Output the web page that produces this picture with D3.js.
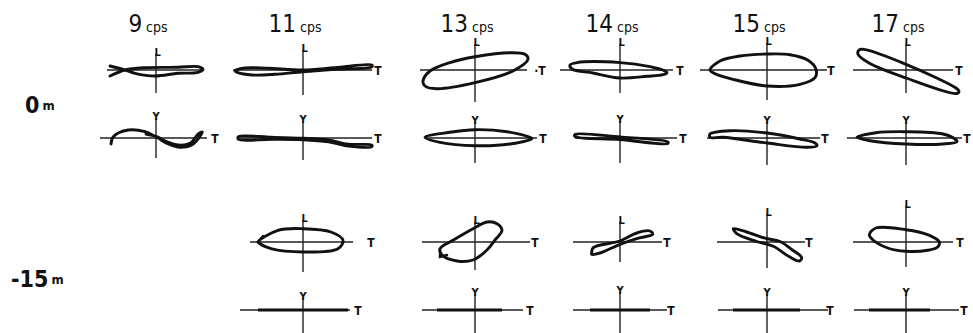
<!DOCTYPE html>
<html>
<head>
<meta charset="utf-8">
<script src="https://cdn.jsdelivr.net/npm/d3@7"></script>
<style>
  body { margin: 0; background: #fff; }
  text { font-family: "Liberation Sans Narrow", "DejaVu Sans Condensed", sans-serif; fill: #111; }
</style>
</head>
<body>
<div id="chart"></div>
<script>
var width = 973, height = 333;

// frequencies (columns) and depths (row groups)
var freqs = [9, 11, 13, 14, 15, 17];
var depths = ["0", "-15"];

// particle motion loops, traced as [T, L] or [T, V] amplitude pairs (null = no record)
var surfLT = [
  [[-46,-6],[-31,0],[-11,2.3],[22,2.7],[42,3.3],[47,0.7],[42,-2.3],[22,-3.3],[-1,-6],[-21,-3.3],[-31,0],[-46,4]],
  [[-68,-0.7],[-58,2],[-35,1.7],[0,0],[32,2.3],[69,5],[69,3.3],[32,0.7],[0,-1.7],[-28,-4.3],[-51,-5],[-65,-2.7]],
  [[-52,-11],[-45,-1],[-25,7.4],[0,13.3],[35,17.3],[50,15.7],[53,10.7],[38,-1],[0,-12.7],[-38,-18.7],[-50,-16]],
  [[-50,5],[-43,7.4],[0,7.4],[30,3.3],[45,-1],[47,-2.7],[43,-4.6],[27,-6.3],[0,-8],[-27,-3],[-48,1]],
  [[-57,0],[-47,9],[-27,14],[0,16],[23,15.3],[41,9.7],[49,0.7],[48,-7.7],[33,-14.3],[0,-16],[-34,-9.3],[-52,-3.7]],
  [[-48,15.7],[-47,20],[-42,20.6],[0,5.7],[50,-18],[53,-21],[51,-23.5],[0,-8],[-37,7]]
];
var surfVT = [
  [[-45,-6],[-42.7,1.3],[-27.7,8],[-11,6.3],[0.7,0.7],[12.3,-6],[24,-9.3],[37.3,-6],[46.3,6],[42.3,4],[34,-5.3],[22.3,-7],[10.7,-3.7],[0.7,1.3],[-10,4]],
  [[-64.7,1.3],[-31.3,0.7],[0,-0.3],[25.3,-2],[45.3,-6.3],[68.7,-7],[68.7,-8.7],[45.3,-8],[25.3,-3.7],[0,-1.7],[-31.3,-1.3],[-64.7,-1.3]],
  [[-50,0.7],[-25,5.7],[0,8.3],[32,6.3],[55,0.7],[57,-0.5],[35,-6],[0,-7.7],[-35,-4.3]],
  [[-45,3.5],[0,1],[48,-4],[48,-5.5],[0,-1.5],[-45,1.5]],
  [[-57,4],[-37,7.3],[0,5],[33,-1],[48,-5],[50,-7.7],[40,-9.3],[0,-5],[-44,0.7],[-57,0.7]],
  [[-49,0.7],[-30,5.3],[0,6.3],[37,4],[49,-1],[51,-3.7],[37,-6],[0,-6],[-36,-2.7]]
];
var deepLT = [
  null,
  [[-45,0],[-25,11.7],[0,13.3],[28,10],[40,1.7],[35,-6.7],[0,-10],[-32,-6.7],[-43,-1.7]],
  [[22,18.3],[27,11.7],[20,2],[12,-8],[-2,-18],[-18,-19],[-33,-13],[-35,-6.7],[-22,1.7],[-2,13.3],[12,20]],
  [[-28.3,-10],[-26.7,-5.6],[0,1],[16.7,9],[30,11],[32.7,7.7],[16.7,3.4],[0,-2.3],[-20,-11],[-28.3,-12.3]],
  [[-33.7,13.4],[-20.3,10],[-2,3.8],[13,0.5],[24.7,-7.5],[34.7,-15.6],[32.3,-19],[22,-14.5],[6.3,-4.3],[-10.3,0.5],[-30.3,8.4]],
  [[-36.7,7.3],[-30,14],[0,12.3],[21.7,7.3],[33.3,0],[31.7,-5],[21.7,-8.3],[0,-9.3],[-18.3,-6],[-33.3,2.3]]
];
// direction arrows on the -15 m loops: [tip, arm1, arm2]
var deepArrows = [
  null,
  [[-45,0],[-40,6],[-40,-4]],
  [[-35,-15],[-35,-7],[-28,-13]],
  null, null, null
];
// vertical motion at -15 m is a straight line along T: [Tmin, Tmax]
var deepVT = [null, [-45, 45], [-38, 27], [-30, 30], [-34, 33], [-37, 24]];

// layout: column centres, row centres, axis extents [tLeft, tRight, vTop, vBottom, tLabel]
var colX = [156, 303, 475, 620, 767, 906];
var rowY = [70, 138, 242, 310];
var axesRows = [
  [[-49,47,-16,23,null],[-70,69,-20,25,75],[-55,52,-26,32,65],[-60,53,-26,23,60],[-67,60,-27,30,64],[-53,47,-26,23,53]],
  [[-56,51,-20,20,59],[-65,69,-17,22,75],[-50,62,-16,25,68],[-45,57,-17,25,63],[-60,53,-16,27,58],[-59,56,-16,27,61]],
  [null,[-53,50,-22,30,68],[-53,55,-20,28,60],[-47,42,-20,20,47],[-50,38,-28,26,42],[-53,47,-36,25,54]],
  [null,[-63,47,-12,23,55],[-53,48,-16,23,55],[-47,47,-18,23,51],[-49,61,-16,23,63],[-52,53,-16,23,58]]
];
var rowComp = ["L", "Y", "L", "Y"];

var svg = d3.select("#chart").append("svg").attr("width", width).attr("height", height);
svg.append("rect").attr("width", width).attr("height", height).attr("fill", "#fff");

var ampX = d3.scaleLinear().domain([-70, 70]).range([-70, 70]);
var ampY = d3.scaleLinear().domain([-25, 25]).range([25, -25]);
var loopLine = d3.line().x(function(d){ return ampX(d[0]); }).y(function(d){ return ampY(d[1]); });

// titles
freqs.forEach(function(f, i) {
  var t = svg.append("text").attr("x", colX[i] - 8).attr("y", 32).attr("text-anchor", "middle");
  t.append("tspan").attr("font-size", 24).text(f);
  t.append("tspan").attr("font-size", 14).attr("dx", 4).text("cps");
});

// depth labels
var dl = [{x: 25, y: 113, d: depths[0]}, {x: 11, y: 287, d: depths[1]}];
dl.forEach(function(o) {
  var t = svg.append("text").attr("x", o.x).attr("y", o.y).attr("font-weight", "bold");
  t.append("tspan").attr("font-size", 23).text(o.d);
  t.append("tspan").attr("font-size", 13).attr("dx", 3).attr("dy", -3).text("m");
});

var rows = [surfLT, surfVT, deepLT, null];

rowY.forEach(function(cy, r) {
  colX.forEach(function(cx, c) {
    var ax = axesRows[r][c];
    if (!ax) return;
    var g = svg.append("g").attr("transform", "translate(" + cx + "," + cy + ")");
    g.append("line").attr("x1", ax[0]).attr("x2", ax[1]).attr("y1", 0).attr("y2", 0)
      .attr("stroke", "#222").attr("stroke-width", 1.3);
    g.append("line").attr("x1", 0).attr("x2", 0).attr("y1", ax[2]).attr("y2", ax[3])
      .attr("stroke", "#222").attr("stroke-width", 1.4);
    g.append("text").attr("x", rowComp[r] == "L" ? -1.5 : 0).attr("y", ax[2] + 2)
      .attr("text-anchor", rowComp[r] == "L" ? "start" : "middle")
      .attr("font-size", 11).attr("font-weight", "bold").text(rowComp[r]);
    if (ax[4] != null) {
      g.append("text").attr("x", ax[4]).attr("y", 4.5).attr("text-anchor", "middle")
        .attr("font-size", 12).attr("font-weight", "bold").text(r == 0 && c == 2 ? "·T" : "T");
    }
    if (r < 3) {
      var pts = rows[r][c];
      if (pts) {
        var open = (r < 2 && c == 0);
        g.append("path").datum(pts)
          .attr("d", loopLine.curve(open ? d3.curveCatmullRom : d3.curveCatmullRomClosed))
          .attr("fill", "none").attr("stroke", "#111").attr("stroke-width", 2.9)
          .attr("stroke-linejoin", "round").attr("stroke-linecap", "round");
      }
      if (r == 2 && deepArrows[c]) {
        var a = deepArrows[c];
        g.append("path").datum([a[1], a[0], a[2]])
          .attr("d", loopLine.curve(d3.curveLinear))
          .attr("fill", "none").attr("stroke", "#111").attr("stroke-width", 2.4)
          .attr("stroke-linecap", "round");
      }
    } else {
      var s = deepVT[c];
      g.append("line").attr("x1", ampX(s[0])).attr("x2", ampX(s[1])).attr("y1", 0).attr("y2", 0)
        .attr("stroke", "#111").attr("stroke-width", 3);
    }
  });
});
</script>
</body>
</html>
